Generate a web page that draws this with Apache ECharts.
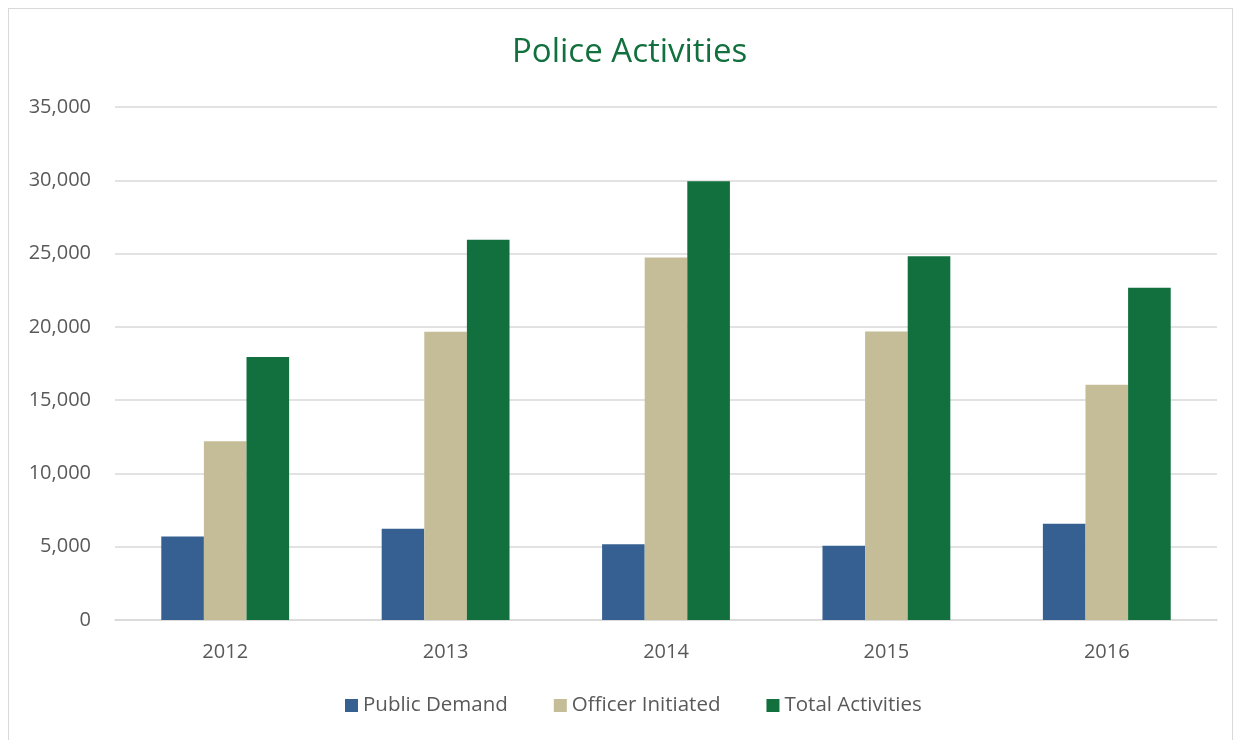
<!DOCTYPE html>
<html>
<head>
<meta charset="utf-8">
<script src="https://cdn.jsdelivr.net/npm/echarts@6/dist/echarts.min.js"></script>
<style>
html,body{margin:0;padding:0;background:#fff;}
#frame{position:absolute;left:8px;top:8px;width:1225px;height:740px;border:1px solid #d9d9d9;box-sizing:border-box;}
#chart{position:absolute;left:0;top:0;width:1241px;height:740px;}
</style>
</head>
<body>
<div id="frame"></div>
<div id="chart"></div>
<script>
const categories = ['2012', '2013', '2014', '2015', '2016'];
const publicDemand = [5700, 6230, 5160, 5070, 6570];
const officerInitiated = [12200, 19660, 24730, 19680, 16050];
const totalActivities = [17950, 25950, 29930, 24820, 22660];
const yTicks = [0, 5000, 10000, 15000, 20000, 25000, 30000, 35000];

const chart = echarts.init(document.getElementById('chart'));
const font = '"Open Sans", "Noto Sans", sans-serif';
chart.setOption({
  animation: false,
  title: {
    text: 'Police Activities',
    left: 507,
    top: 31,
    textStyle: { color: '#11703D', fontSize: 33, fontWeight: 'normal', fontFamily: font }
  },
  legend: {
    bottom: 19,
    left: 340,
    itemWidth: 13,
    itemHeight: 13,
    itemGap: 46,
    icon: 'rect',
    textStyle: { color: '#595959', fontSize: 20.5, fontFamily: font },
    data: ['Public Demand', 'Officer Initiated', 'Total Activities']
  },
  grid: { left: 115, right: 24, top: 107, bottom: 120 },
  xAxis: {
    type: 'category',
    data: categories,
    axisTick: { show: false },
    axisLine: { lineStyle: { color: '#d9d9d9', width: 1.5 } },
    axisLabel: { color: '#595959', fontSize: 20, margin: 22, fontFamily: font }
  },
  yAxis: {
    type: 'value',
    min: yTicks[0],
    max: yTicks[yTicks.length - 1],
    interval: 5000,
    axisLine: { show: false },
    axisTick: { show: false },
    splitLine: { lineStyle: { color: '#d9d9d9', width: 1.5 } },
    axisLabel: {
      color: '#595959', fontSize: 20, margin: 24, fontFamily: font,
      formatter: v => v.toLocaleString('en-US')
    }
  },
  series: [
    { name: 'Public Demand', type: 'bar', data: publicDemand, barGap: '0%', barCategoryGap: '42%',
      itemStyle: { color: '#366092' } },
    { name: 'Officer Initiated', type: 'bar', data: officerInitiated, barGap: '0%', barCategoryGap: '42%',
      itemStyle: { color: '#C4BD97' } },
    { name: 'Total Activities', type: 'bar', data: totalActivities, barGap: '0%', barCategoryGap: '42%',
      itemStyle: { color: '#11703D' } }
  ]
});
</script>
</body>
</html>
